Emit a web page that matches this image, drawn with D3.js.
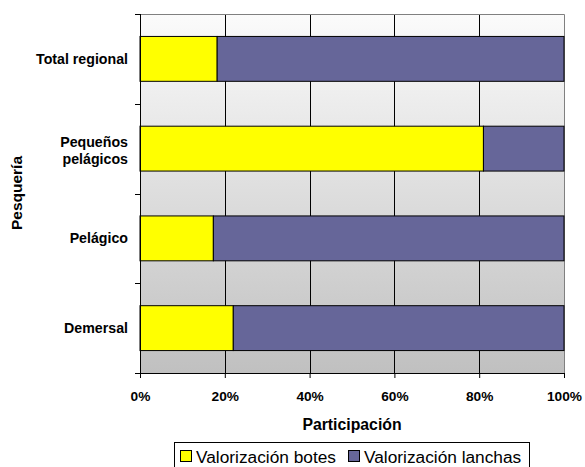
<!DOCTYPE html>
<html><head><meta charset="utf-8">
<script src="https://cdn.jsdelivr.net/npm/d3@7"></script>
<style>body{margin:0;background:#fff}svg{display:block}text{font-family:Arial,"Liberation Sans",sans-serif}</style>
</head><body>
<svg id="c" width="585" height="467"></svg>
<script>
const categories = ["Total regional", "Pequeños pelágicos", "Pelágico", "Demersal"];
const botes = [18.2, 81.0, 17.3, 22.0];
const lanchas = [81.8, 19.0, 82.7, 78.0];
const seriesNames = ["Valorización botes", "Valorización lanchas"];
const seriesColors = ["#ffff00", "#666699"];
const xTicks = [0, 20, 40, 60, 80, 100];

const svg = d3.select("#c");
const L = 140, R = 564, T = 14, B = 373;
const x = d3.scaleLinear().domain([0, 100]).range([L, R]);
const y = d3.scaleBand().domain(categories).range([T, B]).paddingInner(0.5).paddingOuter(0.25);
const yb = d3.scaleBand().domain(categories).range([T, B]);

const defs = svg.append("defs");
const g = defs.append("linearGradient").attr("id", "bg").attr("x1", 0).attr("y1", 0).attr("x2", 0).attr("y2", 1);
g.append("stop").attr("offset", "0%").attr("stop-color", "#fbfbfb");
g.append("stop").attr("offset", "100%").attr("stop-color", "#c0c0c0");

svg.append("rect").attr("x", L).attr("y", T).attr("width", R - L).attr("height", B - T).attr("fill", "url(#bg)");

// gridlines
svg.append("g").selectAll("line").data(xTicks.slice(1, -1)).join("line")
  .attr("x1", d => Math.round(x(d)) + 0.5).attr("x2", d => Math.round(x(d)) + 0.5).attr("y1", T).attr("y2", B)
  .attr("stroke", "#000").attr("stroke-width", 1);

// border top/right
svg.append("path").attr("d", `M${L},${T+0.5}H${R+0.5}V${B}`).attr("fill", "none").attr("stroke", "#808080").attr("stroke-width", 1);

const stacks = d3.stack().keys([0, 1]).value((d, k) => d[k])(categories.map((c, i) => { const o = [botes[i], lanchas[i]]; o.cat = c; return o; }));
svg.append("g").selectAll("g").data(stacks).join("g").attr("fill", (d, i) => seriesColors[i])
  .selectAll("rect").data(d => d).join("rect")
  .attr("x", d => x(d[0])).attr("width", d => x(d[1]) - x(d[0]))
  .attr("y", d => y(d.data.cat)).attr("height", y.bandwidth())
  .attr("stroke", "#000").attr("stroke-width", 1);

// left axis
const yAxisG = svg.append("g").attr("transform", `translate(${L},0)`);
yAxisG.append("line").attr("x1", 0.5).attr("x2", 0.5).attr("y1", T).attr("y2", B).attr("stroke", "#000");
const bounds = categories.map(c => yb(c)).concat([B]);
yAxisG.selectAll("line.t").data(bounds).join("line").attr("class", "t")
  .attr("x1", -5).attr("x2", 0).attr("y1", d => Math.round(d) + 0.5).attr("y2", d => Math.round(d) + 0.5).attr("stroke", "#000");

// bottom axis
const xAxis = d3.axisBottom(x).tickValues(xTicks).tickFormat(d => d + "%").tickSize(5).tickSizeOuter(0);
const xg = svg.append("g").attr("transform", `translate(0,${B})`).call(xAxis);
xg.select(".domain").attr("stroke", "#000");
xg.selectAll("text").attr("font-size", 13.7).attr("font-weight", "bold").attr("fill", "#000").attr("y", 28).attr("dy", 0);

// category labels
const catLines = { "Total regional": ["Total regional"], "Pequeños pelágicos": ["Pequeños", "pelágicos"], "Pelágico": ["Pelágico"], "Demersal": ["Demersal"] };
categories.forEach(c => {
  const lines = catLines[c];
  const cy = yb(c) + yb.bandwidth() / 2;
  const t = svg.append("text").attr("text-anchor", "end").attr("font-size", 14.2).attr("font-weight", "bold")
    .attr("x", 128).attr("y", lines.length > 1 ? cy - 2 : cy + 5);
  lines.forEach((l, i) => t.append("tspan").attr("x", 128).attr("dy", i ? 17.6 : 0).text(l));
});

// axis titles
svg.append("text").attr("x", 352).attr("y", 430).attr("text-anchor", "middle").attr("font-size", 15.8).attr("font-weight", "bold").text("Participación");
svg.append("text").attr("transform", `translate(22,${193}) rotate(-90)`).attr("text-anchor", "middle").attr("font-size", 15.5).attr("font-weight", "bold").text("Pesquería");

// legend
const lg = svg.append("g");
lg.append("rect").attr("x", 174.5).attr("y", 442.5).attr("width", 355).attr("height", 30).attr("fill", "#fff").attr("stroke", "#000");
const items = [{ x: 180, n: 0 }, { x: 348, n: 1 }];
items.forEach(it => {
  lg.append("rect").attr("x", it.x + 0.5).attr("y", 450.5).attr("width", 11).attr("height", 11).attr("fill", seriesColors[it.n]).attr("stroke", "#000");
  lg.append("text").attr("x", it.x + 16).attr("y", 463).attr("font-size", 17.3).text(seriesNames[it.n]);
});
</script>
</body></html>
